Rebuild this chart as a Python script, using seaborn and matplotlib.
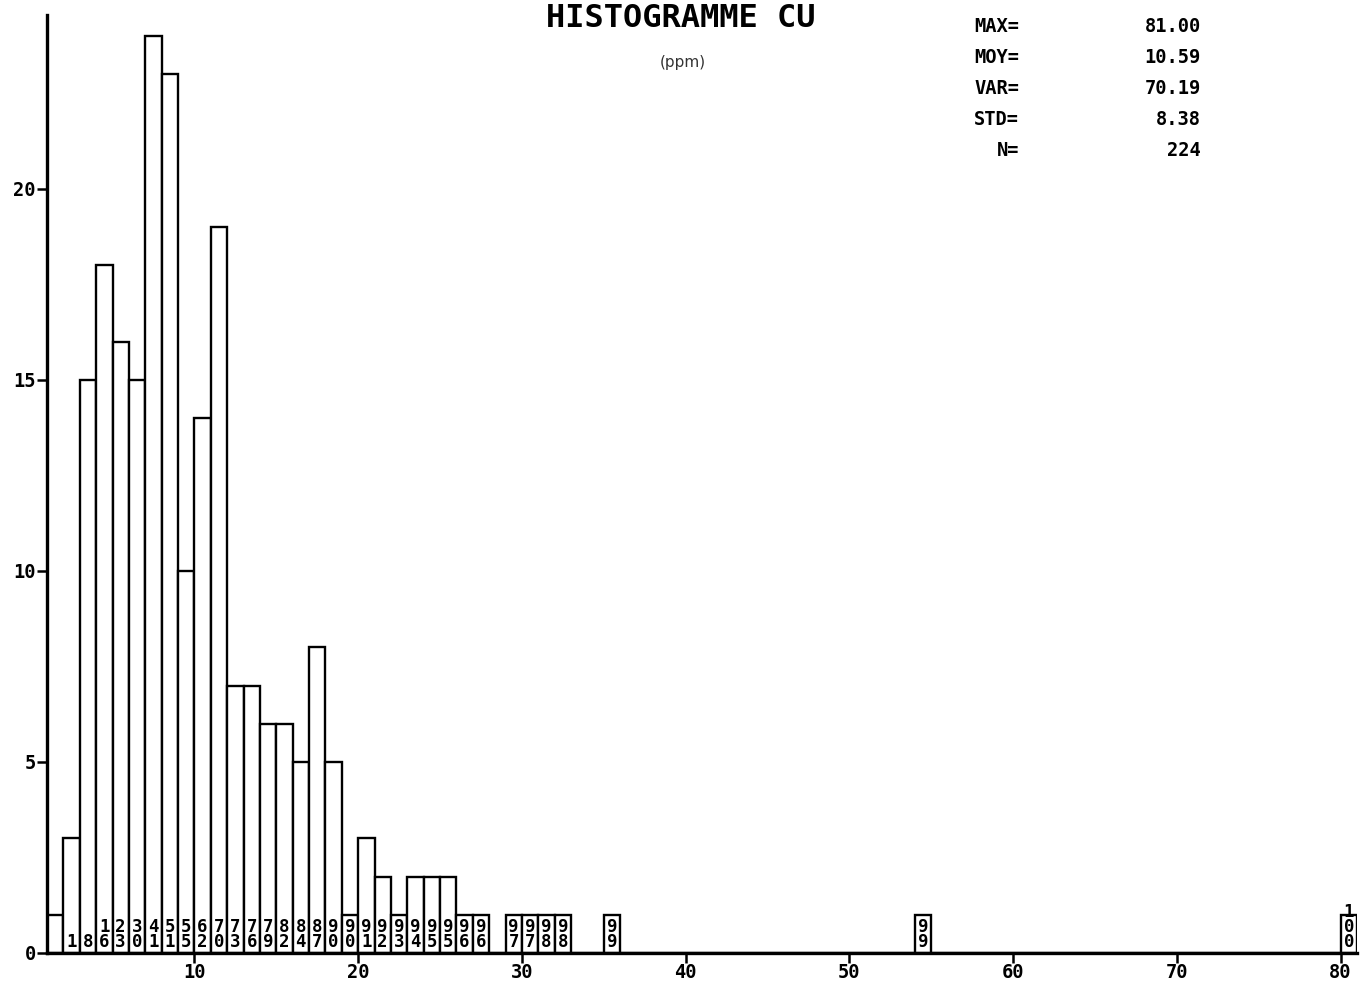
import numpy as np
import pandas as pd
import matplotlib
matplotlib.use("Agg")
import matplotlib.pyplot as plt
import seaborn as sns

# ---- data ----
bin_left = list(range(1, 33)) + [35, 54, 80]
counts = [1, 3, 15, 18, 16, 15, 24, 23, 10, 14, 19, 7, 7, 6, 6, 5, 8, 5,
          1, 3, 2, 1, 2, 2, 2, 1, 1, 0, 1, 1, 1, 1, 1, 1, 1]
cum_labels = ["", "1", "8", "16", "23", "30", "41", "51", "55", "62", "70",
              "73", "76", "79", "82", "84", "87", "90", "90", "91", "92", "93",
              "94", "95", "95", "96", "96", "", "97", "97", "98", "98", "99",
              "99", "100"]
x_ticks = [10, 20, 30, 40, 50, 60, 70, 80]
y_ticks = [0, 5, 10, 15, 20]
stat_names = ["MAX=", "MOY=", "VAR=", "STD=", "N="]
stat_values = ["81.00", "10.59", "70.19", "8.38", "224"]
title = "HISTOGRAMME CU"
unit = "(ppm)"

df = pd.DataFrame({"cu": [b + 0.5 for b in bin_left], "n": counts})

sns.set_style("white")
plt.rcParams["font.family"] = ["DejaVu Sans Mono", "DejaVu Sans"]
plt.rcParams["text.color"] = "black"
plt.rcParams["xtick.color"] = "black"
plt.rcParams["ytick.color"] = "black"

W, H = 1368, 991
fig = plt.figure(figsize=(W / 100, H / 100), dpi=100)
ax_l, ax_r, ax_b, ax_t = 47, 1357, 953, 15
ax = fig.add_axes([ax_l / W, 1 - ax_b / H, (ax_r - ax_l) / W, (ax_b - ax_t) / H])

sns.histplot(data=df, x="cu", weights="n", bins=80, binrange=(1, 81),
             element="bars", fill=True, color="white", edgecolor="black",
             linewidth=1.7, alpha=1, ax=ax)

ax.set_xlim(1, 81)
ax.set_ylim(0, 24.55)
ax.set_xlabel("")
ax.set_ylabel("")
ax.set_xticks(x_ticks)
ax.set_xticklabels([str(t) for t in x_ticks])
ax.set_yticks(y_ticks)
ax.set_yticklabels([str(t) for t in y_ticks])
for lab in ax.get_xticklabels() + ax.get_yticklabels():
    lab.set_fontweight("bold")
    lab.set_fontsize(13.5)
    lab.set_family("DejaVu Sans Mono")
    lab.set_color("black")
ax.tick_params(axis="x", direction="out", length=7, width=1.8, pad=0,
               colors="black", bottom=True)
ax.tick_params(axis="y", direction="out", length=7, width=1.8, pad=1,
               colors="black", left=True)
sns.despine(ax=ax, top=True, right=True)
for s in ("left", "bottom"):
    ax.spines[s].set_linewidth(2.4)
    ax.spines[s].set_color("black")

# stacked cumulative-percentage labels inside the bars
for x, lab in zip(bin_left, cum_labels):
    if lab:
        ax.text(x + 0.5, 0.04, "\n".join(lab), ha="center", va="bottom",
                fontsize=12.5, fontweight="bold", family="DejaVu Sans Mono",
                linespacing=0.82, color="black")

# title and unit
fig.text(681 / W, 1 - 3 / H, title, ha="center", va="top",
         fontsize=23, fontweight="bold", family="DejaVu Sans Mono",
         color="black")
fig.text(683 / W, 1 - 63 / H, unit, ha="center", va="center",
         fontsize=11, family="DejaVu Sans", color="#333333")

# statistics block
for i, (nm, val) in enumerate(zip(stat_names, stat_values)):
    y = 1 - (26 + i * 31.2) / H
    fig.text(1019 / W, y, nm, ha="right", va="center", fontsize=13.5,
             fontweight="bold", family="DejaVu Sans Mono", color="black")
    fig.text(1201 / W, y, val, ha="right", va="center", fontsize=13.5,
             fontweight="bold", family="DejaVu Sans Mono", color="black")

fig.savefig("out.png", dpi=100)
